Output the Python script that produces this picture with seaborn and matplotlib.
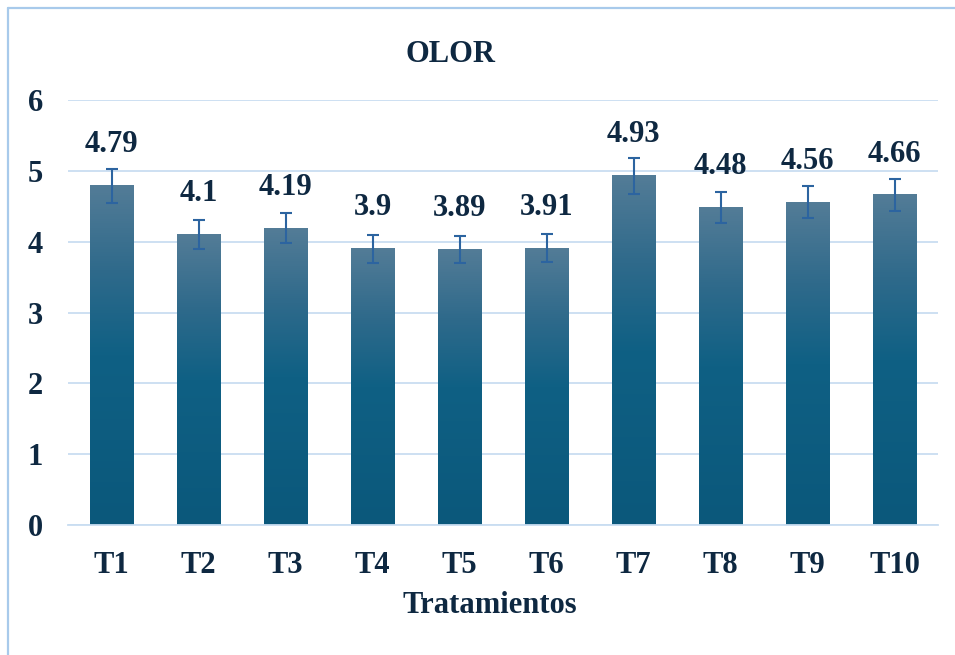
#grafico de barras OLOR por tratamiento

import numpy as np
import pandas as pd
import matplotlib
matplotlib.use("Agg")
import matplotlib.pyplot as plt
from matplotlib.colors import LinearSegmentedColormap
from matplotlib.lines import Line2D
import seaborn as sns

tratamientos = ["T1", "T2", "T3", "T4", "T5", "T6", "T7", "T8", "T9", "T10"]
olor = [4.79, 4.1, 4.19, 3.9, 3.89, 3.91, 4.93, 4.48, 4.56, 4.66]
error = [0.24, 0.21, 0.21, 0.20, 0.19, 0.20, 0.25, 0.22, 0.23, 0.23]

df = pd.DataFrame({"tratamiento": tratamientos, "olor": olor})

sns.set_theme(style="white")
plt.rcParams["font.family"] = ["Liberation Serif", "DejaVu Serif"]

texto = "#0e2841"
grid_color = "#c9ddf1"
W, H = 955, 655

fig = plt.figure(figsize=(9.55, 6.55), dpi=100)
fig.patch.set_facecolor("white")

# area del grafico en pixeles
left, right, top, bottom = 68, 938, 100, 525
ax = fig.add_axes([left / W, 1 - bottom / H, (right - left) / W, (bottom - top) / H])

sns.barplot(data=df, x="tratamiento", y="olor", width=0.5, color="#0b5679", ax=ax, zorder=2)

# degradado en cada barra (claro arriba, oscuro abajo)
cmap = LinearSegmentedColormap.from_list(
    "olor", [(0.0, "#0b587b"), (0.5, "#0f6084"), (0.75, "#2f6a8b"), (1.0, "#537c97")])
grad = np.linspace(0, 1, 256).reshape(-1, 1)
for barra in ax.patches:
    x0 = barra.get_x()
    w = barra.get_width()
    h = barra.get_height()
    ax.imshow(grad, cmap=cmap, extent=[x0, x0 + w, 0, h], origin="lower",
              aspect="auto", zorder=2.5, interpolation="bilinear")
    barra.set_visible(False)

ax.errorbar(range(len(olor)), olor, yerr=error, fmt="none", ecolor="#2c64a0",
            elinewidth=1.5, capsize=4.5, capthick=1.5, zorder=4)

for i, v in enumerate(olor):
    ax.annotate(f"{v:g}", xy=(i, v), xytext=(0, 24), textcoords="offset points",
                ha="center", va="baseline", fontsize=22, fontweight="bold",
                color=texto, annotation_clip=False)

ax.set_xlim(-0.5, len(olor) - 0.5)
ax.set_ylim(0, 6)
ax.set_yticks(range(0, 7))
ax.yaxis.grid(True, color=grid_color, linewidth=1.3, zorder=0)
ax.set_axisbelow(True)
for lado in ["top", "right", "left"]:
    ax.spines[lado].set_visible(False)
ax.spines["bottom"].set_color(grid_color)
ax.spines["bottom"].set_linewidth(1.3)
ax.tick_params(axis="both", length=0, labelsize=22, labelcolor=texto)
ax.tick_params(axis="x", pad=19)
ax.tick_params(axis="y", pad=18)
for t in ax.get_xticklabels() + ax.get_yticklabels():
    t.set_fontweight("bold")
ax.set_xlabel("")
ax.set_ylabel("")

fig.text(450 / W, 1 - 62 / H, "OLOR", ha="center", va="baseline",
         fontsize=22, fontweight="bold", color=texto)
fig.text(490 / W, 1 - 613 / H, "Tratamientos", ha="center", va="baseline",
         fontsize=22, fontweight="bold", color=texto)

# borde del cuadro del grafico
borde = "#a8caeb"
fig.add_artist(Line2D([8 / W, 1], [1 - 8 / H, 1 - 8 / H], color=borde, lw=1.6,
                      transform=fig.transFigure))
fig.add_artist(Line2D([8 / W, 8 / W], [1 - 8 / H, 0], color=borde, lw=1.6,
                      transform=fig.transFigure))

fig.savefig("out.png", dpi=100)
